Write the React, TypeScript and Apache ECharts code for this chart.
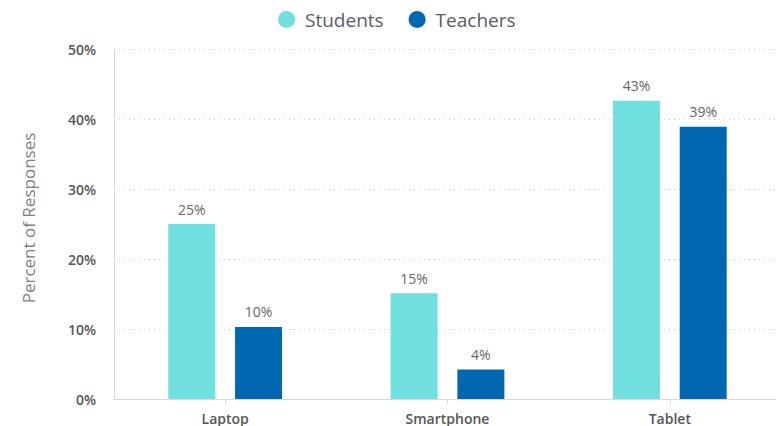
import React, { useEffect, useRef } from "react";
import * as echarts from "echarts";

const categories = ["Laptop", "Smartphone", "Tablet"];
const students = [25, 15.1, 42.6];
const teachers = [10.3, 4.2, 38.9];
const seriesNames = ["Students", "Teachers"];
const yTicks = [0, 10, 20, 30, 40, 50];

export default function App() {
  const ref = useRef<HTMLDivElement>(null);
  useEffect(() => {
    const chart = echarts.init(ref.current!, null, { renderer: "svg" });
    const font = "'Open Sans', sans-serif";
    const label = {
      show: true,
      position: "top",
      distance: 8,
      color: "#666",
      fontSize: 14,
      fontFamily: font,
      formatter: (p: any) => Math.round(p.value) + "%",
    };
    chart.setOption({
      animation: false,
      textStyle: { fontFamily: font },
      legend: {
        top: 5,
        left: 273,
        icon: "circle",
        itemWidth: 17,
        itemHeight: 17,
        itemGap: 25,
        textStyle: { fontSize: 19, color: "#5a5a68", fontFamily: font, padding: [0, 0, 0, 5] },
        data: seriesNames,
      },
      grid: { left: 114, width: 667, top: 49, bottom: 27, containLabel: false },
      xAxis: {
        type: "category",
        data: categories,
        axisLine: { lineStyle: { color: "#d9d9d9", width: 1 } },
        axisTick: { show: true, alignWithLabel: true, length: 5, lineStyle: { color: "#d9d9d9" } },
        axisLabel: { color: "#555", fontSize: 14, fontWeight: 600, margin: 12, fontFamily: font },
      },
      yAxis: {
        type: "value",
        min: yTicks[0],
        max: yTicks[yTicks.length - 1],
        interval: 10,
        axisLine: { show: true, lineStyle: { color: "#d9d9d9" } },
        axisTick: { show: false },
        axisLabel: {
          color: "#555",
          fontSize: 14,
          fontWeight: 600,
          margin: 18,
          formatter: (v: number) => v + "%",
          fontFamily: font,
        },
        splitLine: { lineStyle: { color: "#cfcfcf", type: [1, 4] } },
      },
      graphic: [
        {
          type: "text",
          x: 28,
          y: 218,
          rotation: Math.PI / 2,
          style: {
            text: "Percent of Responses",
            fill: "#808080",
            fontSize: 17,
            fontFamily: font,
            textAlign: "center",
            textVerticalAlign: "middle",
          },
        },
      ],
      series: [
        {
          name: seriesNames[0],
          type: "bar",
          data: students,
          barWidth: 47,
          barGap: "42%",
          itemStyle: { color: "#70E0DE" },
          label,
        },
        {
          name: seriesNames[1],
          type: "bar",
          data: teachers,
          barWidth: 47,
          itemStyle: { color: "#0068B0" },
          label,
        },
      ],
    });
    return () => chart.dispose();
  }, []);
  return (
    <div style={{ width: 776, height: 426, position: "absolute", left: 0, top: 0, overflow: "hidden" }}>
      <div ref={ref} style={{ width: 786, height: 426 }} />
    </div>
  );
}
